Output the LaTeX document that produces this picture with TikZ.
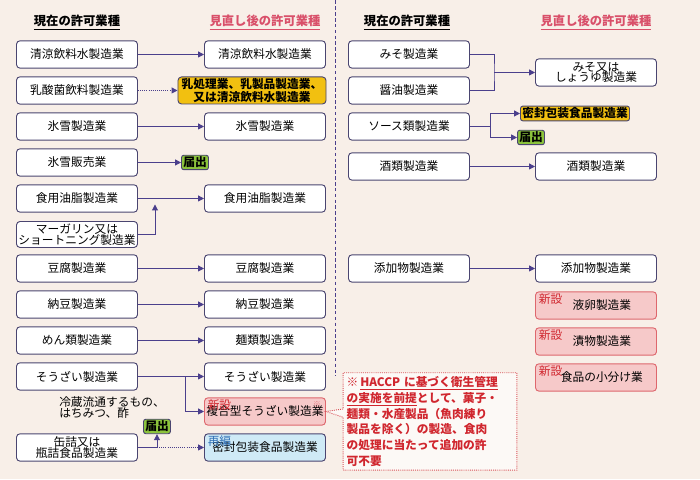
\documentclass[tikz,border=0pt]{standalone}
\usepackage{fontspec}
\setmainfont{Noto Sans CJK JP}
\usetikzlibrary{arrows.meta, shapes.callouts}
\definecolor{bgcol}{HTML}{F8EFE8}
\definecolor{boxline}{HTML}{4A4570}
\definecolor{arrcol}{HTML}{4B3F8C}
\definecolor{headred}{HTML}{D9506A}
\definecolor{newred}{HTML}{D0262E}
\definecolor{newfill}{HTML}{F6C9C9}
\definecolor{yelfill}{HTML}{F2C010}
\definecolor{grnfill}{HTML}{8CC43C}
\definecolor{bluefill}{HTML}{CFEAF6}
\definecolor{bluetxt}{HTML}{2F6FB5}

\begin{document}
\begin{tikzpicture}[x=0.03cm, y=-0.03cm, font=\fontsize{10}{12}\selectfont]
    % Define block styles
    \tikzset{
        box/.style={rectangle, draw=boxline, thick, fill=white, rounded corners=3pt, minimum width=3.63cm, minimum height=0.82cm, align=center, inner sep=1pt},
        newbox/.style={box, draw=newred!70, fill=newfill},
        flagbox/.style={rectangle, draw=boxline, thick, rounded corners=2pt, inner sep=1.5pt, font=\fontsize{10}{11}\selectfont\bfseries},
        head/.style={font=\fontsize{10.5}{12}\selectfont\bfseries},
        link/.style={draw=arrcol, thick, -{Triangle[length=5pt, width=5pt]}},
        seg/.style={draw=arrcol, thick},
        tag/.style={anchor=north west, inner sep=0pt, text=newred}
    }
    \fill[bgcol] (0,0) rectangle (700,479);

    % Headers
    \node[head] (hnowL) at (77,22) {\underline{現在の許可業種}};
    \node[head, text=headred] (hnewL) at (265,22) {\underline{見直し後の許可業種}};
    \node[head] (hnowR) at (407,22) {\underline{現在の許可業種}};
    \node[head, text=headred] (hnewR) at (596,22) {\underline{見直し後の許可業種}};

    % Divider
    \draw[arrcol, thick, dash pattern=on 3pt off 2pt] (335,0) -- (335,375);

    % Left: current permits
    \node[box] (seiryo) at (77,54) {清涼飲料水製造業};
    \node[box] (nyusan) at (77,90) {乳酸菌飲料製造業};
    \node[box] (hyoset) at (77,126) {氷雪製造業};
    \node[box] (hyohan) at (77,162) {氷雪販売業};
    \node[box] (yushi) at (77,198) {食用油脂製造業};
    \node[box, minimum height=0.78cm] (margarine) at (77,234) {マーガリン又は\\[-3pt]ショートニング製造業};
    \node[box] (tofu) at (77,268) {豆腐製造業};
    \node[box] (natto) at (77,304) {納豆製造業};
    \node[box] (men) at (77,340) {めん類製造業};
    \node[box] (sozai) at (77,376) {そうざい製造業};
    \node[box] (kanzume) at (77,447) {缶詰又は\\[-3pt]瓶詰食品製造業};

    % Left: revised permits
    \node[box] (seiryo2) at (265,54) {清涼飲料水製造業};
    \node[box, fill=yelfill, minimum width=4.44cm, minimum height=0.78cm, font=\fontsize{10}{11.5}\selectfont\bfseries] (nyusan2) at (252,90) {乳処理業、乳製品製造業、\\又は清涼飲料水製造業};
    \node[box] (hyoset2) at (265,126) {氷雪製造業};
    \node[flagbox, fill=grnfill] (todoke1) at (195,162) {届出};
    \node[box] (yushi2) at (265,198) {食用油脂製造業};
    \node[box] (tofu2) at (265,268) {豆腐製造業};
    \node[box] (natto2) at (265,304) {納豆製造業};
    \node[box] (men2) at (265,340) {麺類製造業};
    \node[box] (sozai2) at (265,376) {そうざい製造業};
    \node[newbox] (fukugo) at (265,411) {\mbox{}\\[-4pt]複合型そうざい製造業};
    \node[tag] (fukugoT) at ([xshift=3pt, yshift=-2pt]fukugo.north west) {新設};
    \node[anchor=north east, inner sep=0pt, text=newred!60, font=\fontsize{7}{8}\selectfont] (fukugoM) at ([xshift=-4pt, yshift=-3pt]fukugo.north east) {※};
    \node[box, fill=bluefill] (mippu) at (265,447) {\mbox{}\\[-4pt]密封包装食品製造業};
    \node[tag, text=bluetxt] (mippuT) at ([xshift=3pt, yshift=-2pt]mippu.north west) {再編};
    \node[flagbox, fill=grnfill] (todoke2) at (157,426) {届出};
    \node[align=left, font=\fontsize{10}{11}\selectfont] (reizo) at (112,407) {冷蔵流通するもの、\\[-2pt]はちみつ、酢};

    % Right: current permits
    \node[box] (miso) at (409,54) {みそ製造業};
    \node[box] (shoyu) at (409,90) {醤油製造業};
    \node[box] (sauce) at (409,126) {ソース類製造業};
    \node[box] (sake) at (409,166) {酒類製造業};
    \node[box] (tenka) at (409,268) {添加物製造業};

    % Right: revised permits
    \node[box] (miso2) at (596,72) {みそ又は\\[-3pt]しょうゆ製造業};
    \node[flagbox, fill=yelfill] (mippu2) at (575,113) {密封包装食品製造業};
    \node[flagbox, fill=grnfill] (todoke3) at (531,137) {届出};
    \node[box] (sake2) at (596,166) {酒類製造業};
    \node[box] (tenka2) at (596,268) {添加物製造業};
    \node[newbox] (ranen) at (596,305) {\mbox{}\\[-4pt]\quad 液卵製造業};
    \node[tag] (ranenT) at ([xshift=3pt, yshift=-2pt]ranen.north west) {新設};
    \node[newbox] (tsuke) at (596,341) {\mbox{}\\[-4pt]\quad 漬物製造業};
    \node[tag] (tsukeT) at ([xshift=3pt, yshift=-2pt]tsuke.north west) {新設};
    \node[newbox] (kowake) at (596,377) {\mbox{}\\[-4pt]\quad 食品の小分け業};
    \node[tag] (kowakeT) at ([xshift=3pt, yshift=-2pt]kowake.north west) {新設};

    % Note callout
    \node[rectangle callout, draw=newred!80, densely dotted, fill=white!60!bgcol, thick, text=newred, align=left, text width=5.0cm, inner sep=3pt,
          font=\fontsize{10}{13.5}\selectfont\bfseries, callout absolute pointer={(fukugo.east)}] (note) at (430,421)
        {※\,\underline{HACCP に基づく衛生管理}\\\underline{の実施を前提}として、菓子・\\麺類・水産製品（魚肉練り\\製品を除く）の製造、食肉\\の処理に当たって追加の許\\可不要};

    % Joints
    \coordinate (margjoin) at (155,204);
    \coordinate (sozjoin) at (185,376);
    \coordinate (kanjoin) at (157,447);
    \coordinate (misojoin) at (494,72);
    \coordinate (saucejoin) at (490,126);

    % Draw connections as arrows
    \draw[link] (seiryo) -- (seiryo2);
    \draw[link, densely dotted] (nyusan) -- (nyusan2);
    \draw[link] (hyoset) -- (hyoset2);
    \draw[link] (hyohan) -- (todoke1);
    \draw[link] (yushi) -- (yushi2);
    \draw[link] (margarine.east) -| (margjoin);
    \draw[link] (tofu) -- (tofu2);
    \draw[link] (natto) -- (natto2);
    \draw[link] (men) -- (men2);
    \draw[link] (sozai) -- (sozai2);
    \draw[link] (sozjoin) |- (fukugo.west);
    \draw[link] (kanzume.east) -| (todoke2.south);
    \draw[link, densely dotted] (kanjoin) -- (mippu);

    \draw[seg] (miso.east) -| (misojoin) |- (shoyu.east);
    \draw[link] (misojoin) -- (miso2);
    \draw[seg] (sauce.east) -- (saucejoin);
    \draw[link] (saucejoin) |- (mippu2.west);
    \draw[link] (saucejoin) |- (todoke3.west);
    \draw[link] (sake) -- (sake2);
    \draw[link] (tenka) -- (tenka2);
\end{tikzpicture}
\end{document}
